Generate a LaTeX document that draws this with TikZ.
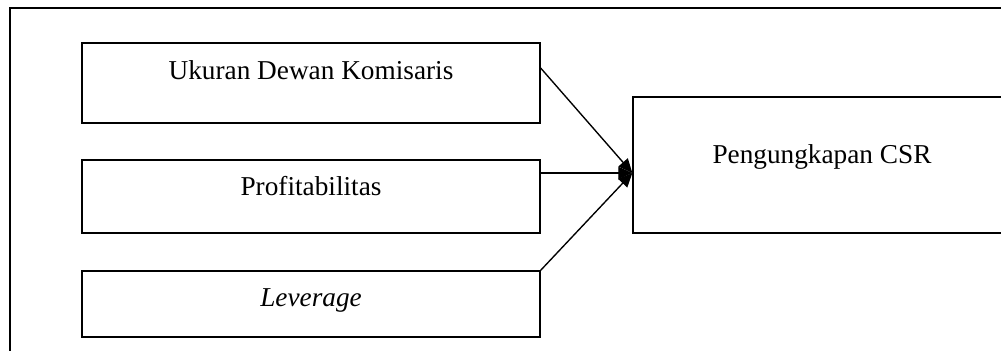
\documentclass[tikz,border=0pt]{standalone}
\usepackage{fontspec}
\setmainfont{Liberation Serif}
\usetikzlibrary{arrows.meta}

\begin{document}
\begin{tikzpicture}[x=0.44pt, y=-0.44pt, line width=0.6pt,
	arrows={-Triangle[length=6.2pt,width=5.4pt]},
	varbox/.style={draw, inner sep=0pt, minimum width=201.5pt, font=\fontsize{12}{14}\selectfont}]
	\clip (0,0) rectangle (1001,350);
	\draw (10,8) rectangle (1030,380);

	\node[varbox, text height=15.84pt, text depth=19.36pt] (ukuran) at (311,83) {Ukuran Dewan Komisaris};
	\node[varbox, text height=15.4pt, text depth=16.72pt] (profit) at (311,196.5) {Profitabilitas};
	\node[varbox, text height=15.4pt, text depth=13.64pt] (leverage) at (311,304) {\textit{Leverage}};

	\node[varbox, minimum width=166.3pt, text height=29.04pt, text depth=30.8pt] (csr) at (822,165) {Pengungkapan CSR};

	\coordinate (hub) at ([yshift=-3.5pt]csr.west);

	\draw ([yshift=6.6pt]ukuran.east) -- (hub);
	\draw (profit.east |- hub) -- (hub);
	\draw (leverage.north east) -- (hub);

\end{tikzpicture}
\end{document}
